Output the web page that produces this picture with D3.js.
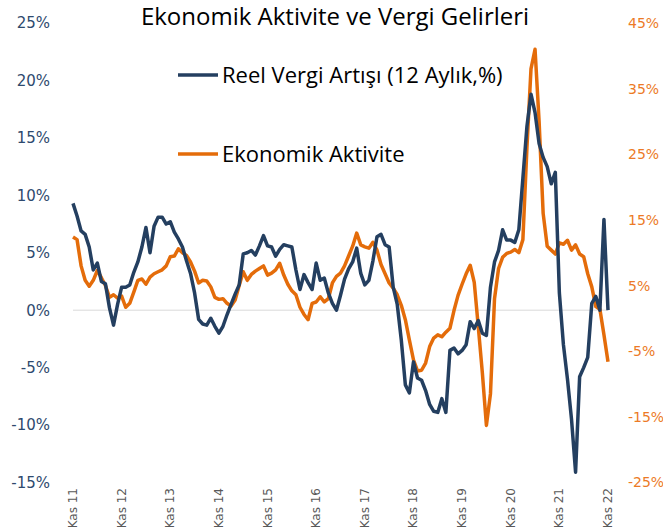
<!DOCTYPE html>
<html lang="tr">
<head>
  <meta charset="UTF-8">
  <title>Ekonomik Aktivite ve Vergi Gelirleri</title>
  <script src="https://d3js.org/d3.v7.min.js"></script>
  <style>
    body { margin: 0; padding: 0; background: #fff; }
    svg { display: block; }
  </style>
</head>
<body>
  <svg id="chart" width="663" height="528"></svg>

  <script>
    // monthly, Kas 2011 .. Kas 2022
    const vergi = [
      9.3, 8.2, 6.9, 6.6, 5.5, 3.5, 4.1, 2.5, 2.3, 0.2, -1.3, 0.5,
      2.0, 2.0, 2.2, 3.3, 4.2, 5.5, 7.2, 5.0, 7.3, 8.1, 8.1, 7.5,
      7.7, 6.8, 6.2, 5.5, 4.3, 3.2, 1.5, -0.8, -1.2, -1.3, -0.7, -1.4,
      -2.0, -1.4, -0.4, 0.5, 1.4, 2.2, 4.9, 5.0, 5.2, 4.8, 5.6, 6.5,
      5.6, 5.5, 4.7, 5.3, 5.7, 5.6, 5.5, 3.5, 1.8, 3.1, 2.4, 1.8,
      4.1, 2.6, 2.8, 1.5, 0.6, 0.0, 1.3, 2.7, 3.6, 4.2, 5.4, 3.2,
      2.2, 2.6, 4.3, 6.4, 6.6, 5.7, 5.5, 2.0, 0.5, -2.6, -6.5, -7.2,
      -4.5, -5.9, -6.1, -7.0, -8.2, -8.8, -8.9, -7.7, -8.9, -3.5, -3.3, -3.8,
      -3.5, -3.0, -1.0, -1.6, -0.9, -2.0, -2.2, 2.0, 4.2, 5.2, 7.0, 6.1,
      6.1, 5.9, 7.0, 11.5, 16.0, 18.8, 17.2, 14.5, 13.3, 12.5, 11.0, 12.0,
      1.5, -3.0, -6.0, -9.5, -14.1, -5.8, -5.0, -4.1, 0.6, 1.2, 0.0, 7.9,
      0.0
    ];

    const aktivite = [
      12.4, 12.0, 8.0, 5.8, 4.9, 5.8, 7.3, 6.2, 5.0, 3.2, 3.6, 3.1,
      3.4, 1.7, 2.3, 4.0, 5.8, 6.0, 5.2, 6.3, 6.8, 7.1, 7.4, 8.0,
      9.4, 9.5, 10.6, 10.0, 9.6, 8.6, 7.2, 5.4, 5.8, 5.7, 4.8, 3.2,
      2.9, 3.0, 2.3, 1.9, 2.8, 5.0, 7.1, 5.8, 6.7, 7.2, 7.6, 8.0,
      6.6, 6.9, 7.4, 8.4, 6.6, 5.2, 4.2, 3.6, 1.7, 0.6, -0.2, 2.3,
      2.5, 3.3, 2.5, 3.0, 5.4, 6.4, 6.9, 8.0, 9.5, 11.0, 13.0, 11.2,
      10.9, 10.7, 11.6, 10.4, 8.2, 6.8, 5.4, 4.6, 3.6, 2.0, -0.2, -3.3,
      -6.3, -8.0, -7.9, -6.8, -4.3, -3.0, -2.5, -2.8, -2.1, -1.5, 1.2, 3.5,
      5.2, 6.8, 8.1, 5.5, -1.3, -8.3, -16.3, -11.5, 3.0, 7.6, 9.3, 9.9,
      10.1, 10.5, 10.0, 12.0, 26.0, 38.0, 41.0, 30.0, 16.0, 11.0, 10.4, 9.8,
      11.5, 11.3, 11.9, 10.4, 11.2, 9.8, 9.4, 6.8, 4.8, 1.8, 1.4, -2.5,
      -6.6
    ];

    const yillar = ["Kas 11", "Kas 12", "Kas 13", "Kas 14", "Kas 15", "Kas 16",
                    "Kas 17", "Kas 18", "Kas 19", "Kas 20", "Kas 21", "Kas 22"];
    const solTikler = [25, 20, 15, 10, 5, 0, -5, -10, -15];
    const sagTikler = [45, 35, 25, 15, 5, -5, -15, -25];

    const mavi = "#243f60", turuncu = "#e46c0a";

    const svg = d3.select("#chart");
    const n = vergi.length;

    const x = d3.scaleLinear().domain([0, n - 1]).range([73, 608]);
    const yL = d3.scaleLinear().domain([-15, 25]).range([482.5, 23]);
    const yR = d3.scaleLinear().domain([-25, 45]).range([482.5, 23]);

    // zero line
    svg.append("line")
      .attr("x1", x(0)).attr("x2", x(n - 1))
      .attr("y1", yL(0)).attr("y2", yL(0))
      .attr("stroke", "#d9d9d9").attr("stroke-width", 1);

    // left axis
    const solEksen = svg.append("g")
      .attr("transform", "translate(50,0)")
      .call(d3.axisLeft(yL).tickValues(solTikler).tickSize(0).tickPadding(0)
        .tickFormat(d => d + "%"));
    solEksen.select(".domain").remove();
    solEksen.selectAll("text")
      .attr("fill", "#2e4a6e")
      .style("font-family", "'DejaVu Sans', sans-serif")
      .style("font-size", "15px");

    // right axis
    const sagEksen = svg.append("g")
      .attr("transform", "translate(628,0)")
      .call(d3.axisRight(yR).tickValues(sagTikler).tickSize(0).tickPadding(0)
        .tickFormat(d => d + "%"));
    sagEksen.select(".domain").remove();
    sagEksen.selectAll("text")
      .attr("fill", "#ec7a26")
      .style("font-family", "'DejaVu Sans', sans-serif")
      .style("font-size", "14px");

    // x labels, one per year
    svg.append("g").selectAll("text")
      .data(yillar)
      .join("text")
      .attr("transform", (d, i) => `translate(${x(i * 12) + 4},488) rotate(-90)`)
      .attr("text-anchor", "end")
      .attr("fill", "#595959")
      .style("font-family", "'DejaVu Sans', sans-serif")
      .style("font-size", "12px")
      .text(d => d);

    const lineL = d3.line().x((d, i) => x(i)).y(d => yL(d));
    const lineR = d3.line().x((d, i) => x(i)).y(d => yR(d));

    svg.append("path")
      .datum(aktivite)
      .attr("d", lineR)
      .attr("fill", "none")
      .attr("stroke", turuncu)
      .attr("stroke-width", 3.5)
      .attr("stroke-linejoin", "round");

    svg.append("path")
      .datum(vergi)
      .attr("d", lineL)
      .attr("fill", "none")
      .attr("stroke", mavi)
      .attr("stroke-width", 3.5)
      .attr("stroke-linejoin", "round");

    // title
    svg.append("text")
      .attr("x", 335).attr("y", 25)
      .attr("text-anchor", "middle")
      .attr("fill", "#000")
      .style("font-family", "'Open Sans', sans-serif")
      .style("font-size", "24px")
      .text("Ekonomik Aktivite ve Vergi Gelirleri");

    // legend
    const legend = [
      {ad: "Reel Vergi Artışı (12 Aylık,%)", renk: mavi, y: 75},
      {ad: "Ekonomik Aktivite", renk: turuncu, y: 154}
    ];
    const lg = svg.append("g").selectAll("g").data(legend).join("g");
    lg.append("line")
      .attr("x1", 178).attr("x2", 218)
      .attr("y1", d => d.y).attr("y2", d => d.y)
      .attr("stroke", d => d.renk).attr("stroke-width", 3.5);
    lg.append("text")
      .attr("x", 222).attr("y", d => d.y + 8)
      .attr("fill", "#000")
      .style("font-family", "'Open Sans', sans-serif")
      .style("font-size", "22px")
      .text(d => d.ad);
  </script>
</body>
</html>
